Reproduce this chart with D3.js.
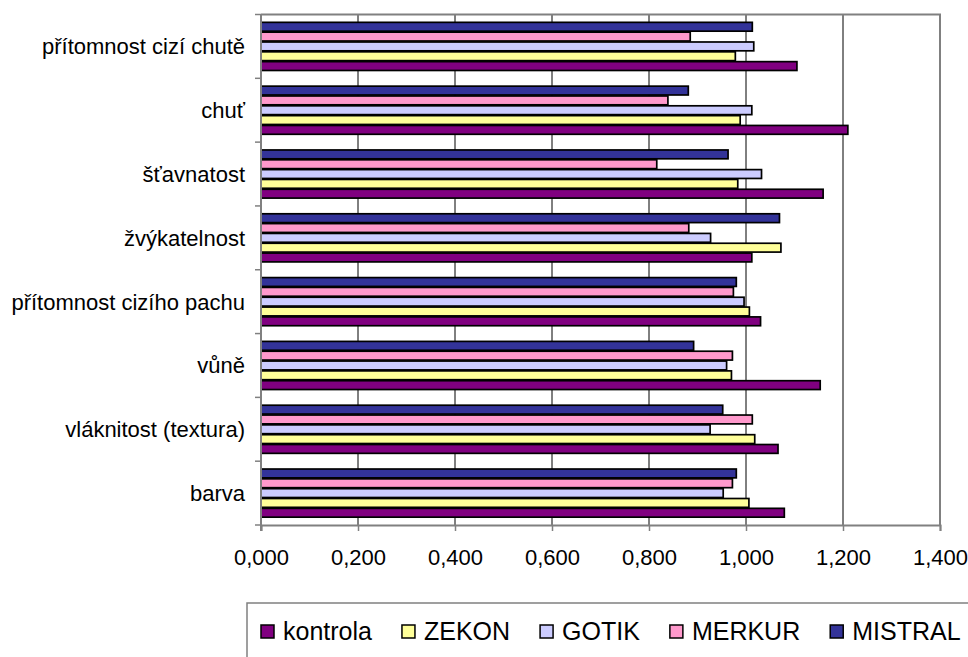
<!DOCTYPE html>
<html>
<head>
<meta charset="utf-8">
<script src="https://cdn.jsdelivr.net/npm/d3@7"></script>
<style>
  body { margin: 0; background: #fff; }
  svg { display: block; font-family: "Liberation Sans", Arial, sans-serif; }
</style>
</head>
<body>
<script>
const [w, h] = [968, 657];

// categories, top to bottom as they appear in the chart
const categories = ['přítomnost cizí chutě', 'chuť', 'šťavnatost', 'žvýkatelnost',
  'přítomnost cizího pachu', 'vůně', 'vláknitost (textura)', 'barva'];

const series = ['kontrola', 'ZEKON', 'GOTIK', 'MERKUR', 'MISTRAL'];
const colors = ['#800080', '#ffff99', '#ccccff', '#ff99cc', '#333399'];

const kontrola = [1.105, 1.210, 1.159, 1.012, 1.030, 1.153, 1.066, 1.079];
const zekon    = [0.978, 0.988, 0.983, 1.072, 1.007, 0.970, 1.018, 1.006];
const gotik    = [1.016, 1.012, 1.032, 0.927, 0.996, 0.960, 0.926, 0.953];
const merkur   = [0.885, 0.839, 0.816, 0.882, 0.974, 0.972, 1.013, 0.972];
const mistral  = [1.013, 0.881, 0.963, 1.069, 0.980, 0.892, 0.952, 0.980];
const values = [kontrola, zekon, gotik, merkur, mistral];

const xTicks = [0, 0.2, 0.4, 0.6, 0.8, 1.0, 1.2, 1.4];

const plot = { left: 261, right: 940, top: 14.5, bottom: 525 };

const svg = d3.select('body').append('svg')
  .attr('width', w)
  .attr('height', h);

const x = d3.scaleLinear().domain([0, 1.4]).range([plot.left, plot.right]);
const y = d3.scaleBand().domain(categories).range([plot.top, plot.bottom]);
// inside a category: MISTRAL on top, kontrola at the bottom
const yInner = d3.scaleBand()
  .domain(series.slice().reverse())
  .range([y.bandwidth() * 0.115, y.bandwidth() * 0.885]);

// gridlines
svg.append('g')
  .selectAll('line')
  .data(xTicks.slice(1, -1))
  .enter()
  .append('line')
  .attr('x1', d => x(d)).attr('x2', d => x(d))
  .attr('y1', plot.top).attr('y2', plot.bottom)
  .attr('stroke', '#000')
  .attr('stroke-width', 1);

// plot border (top + right)
svg.append('path')
  .attr('d', `M${plot.left},${plot.top}H${plot.right}V${plot.bottom}`)
  .attr('fill', 'none')
  .attr('stroke', '#808080')
  .attr('stroke-width', 2);

// bars
const rows = [];
categories.forEach((c, i) => {
  series.forEach((s, j) => rows.push({ cat: c, series: s, value: values[j][i], color: colors[j] }));
});

svg.append('g')
  .selectAll('rect')
  .data(rows)
  .enter()
  .append('rect')
  .attr('x', x(0))
  .attr('y', d => y(d.cat) + yInner(d.series) + 0.5)
  .attr('width', d => x(d.value) - x(0))
  .attr('height', yInner.bandwidth() - 1)
  .attr('fill', d => d.color)
  .attr('stroke', '#000')
  .attr('stroke-width', 1.7);

// x axis
const xAxis = d3.axisBottom(x)
  .tickValues(xTicks)
  .tickSize(6)
  .tickFormat(d => d3.format('.3f')(d).replace('.', ','));

const gx = svg.append('g')
  .attr('transform', `translate(0,${plot.bottom})`)
  .call(xAxis);
gx.select('.domain').attr('stroke', '#808080').attr('stroke-width', 2);
gx.selectAll('.tick line').attr('stroke', '#808080').attr('stroke-width', 1.5);
gx.selectAll('.tick text')
  .attr('y', 0)
  .attr('dy', 0)
  .attr('transform', 'translate(0,40)')
  .attr('font-size', 22)
  .attr('font-family', '"Liberation Sans", Arial, sans-serif')
  .attr('fill', '#000');

// y axis: ticks at category boundaries, labels centred in bands
svg.append('line')
  .attr('x1', plot.left).attr('x2', plot.left)
  .attr('y1', plot.top).attr('y2', plot.bottom + 6)
  .attr('stroke', '#808080').attr('stroke-width', 2);

const bounds = categories.map(c => y(c)).concat([plot.bottom]);
svg.append('g')
  .selectAll('line')
  .data(bounds)
  .enter()
  .append('line')
  .attr('x1', plot.left - 6).attr('x2', plot.left)
  .attr('y1', d => d).attr('y2', d => d)
  .attr('stroke', '#808080').attr('stroke-width', 1.5);

svg.append('g')
  .selectAll('text')
  .data(categories)
  .enter()
  .append('text')
  .attr('x', 245)
  .attr('y', d => y(d) + y.bandwidth() / 2)
  .attr('dy', '0.36em')
  .attr('text-anchor', 'end')
  .attr('font-size', 22)
  .text(d => d);

// legend
const legend = svg.append('g');
legend.append('path')
  .attr('d', `M247,${h + 2}V603H${w + 2}`)
  .attr('fill', 'none')
  .attr('stroke', '#808080')
  .attr('stroke-width', 1.5);

let lx = 261;
series.forEach((s, i) => {
  legend.append('rect')
    .attr('x', lx).attr('y', 625)
    .attr('width', 13).attr('height', 13)
    .attr('fill', colors[i])
    .attr('stroke', '#000')
    .attr('stroke-width', 1.5);
  const t = legend.append('text')
    .attr('x', lx + 22)
    .attr('y', 640)
    .attr('font-size', 25)
    .text(s);
  lx += 22 + t.node().getComputedTextLength() + 30;
});
</script>
</body>
</html>
